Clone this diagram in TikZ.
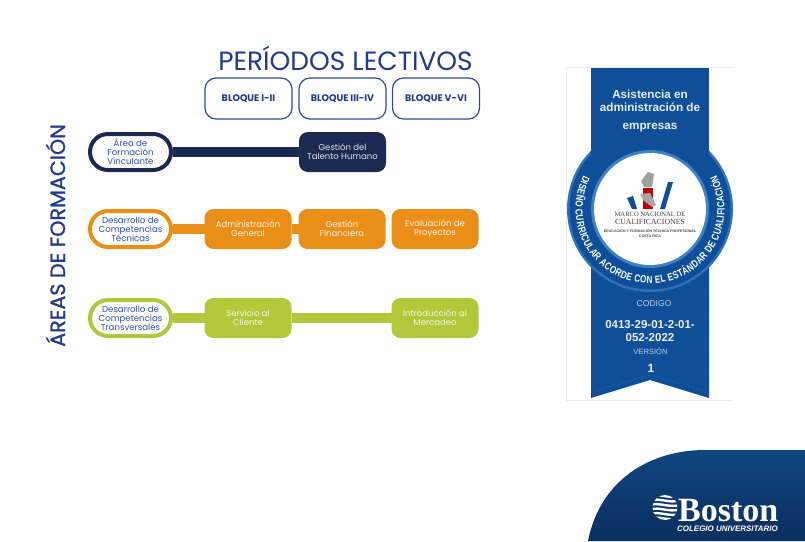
\documentclass[tikz,border=0pt]{standalone}
\usepackage{fontspec}
\setmainfont{Poppins}
\newfontfamily\areafont[FakeBold=1.2]{Poppins}
\newfontfamily\badgefont{Liberation Sans}
\newfontfamily\ringfont[FakeStretch=0.78]{Liberation Sans}
\newfontfamily\crestfont{Liberation Serif}
\usetikzlibrary{positioning,decorations.text,shadings}
\definecolor{navy}{HTML}{1C2A52}
\definecolor{titleblue}{HTML}{1F3A8F}
\definecolor{headline}{HTML}{2F4C9C}
\definecolor{pilltext}{HTML}{2F4FB0}
\definecolor{orangebar}{HTML}{E98E17}
\definecolor{greenbar}{HTML}{B2C83A}
\definecolor{ribbon}{HTML}{0F4F99}
\definecolor{ribbonlight}{HTML}{3D82C4}
\definecolor{ribbontext}{HTML}{B9D0E8}
\definecolor{cardline}{HTML}{ECECEC}
\definecolor{cornertop}{HTML}{10467F}
\definecolor{cornerbottom}{HTML}{0B2E60}
\tikzset{
  head/.style={draw=headline, line width=1.2pt, rounded corners=11pt, minimum width=87pt, minimum height=41pt, align=center, font=\fontsize{9.5}{10}\selectfont\bfseries, text=titleblue, inner sep=0pt},
  pill/.style={draw=#1, fill=white, line width=4pt, rounded corners=18pt, minimum width=81pt, minimum height=36pt, align=center, font=\fontsize{8.6}{9}\selectfont, text=pilltext, inner sep=0pt},
  course/.style={fill=#1, rounded corners=9pt, minimum width=87pt, minimum height=40pt, align=center, font=\fontsize{8.5}{9.2}\selectfont, text=white!88!#1, inner sep=0pt, outer sep=0pt},
  link/.style={draw=#1, line width=10pt},
}
\begin{document}
\begin{tikzpicture}[x=1pt,y=-1pt]
  \useasboundingbox (0,0) rectangle (805,541);

  % titles
  \node (periodos) at (345.5,58.5) {\fontsize{26.4}{28}\selectfont\color{titleblue}PERÍODOS LECTIVOS};
  \node[rotate=90] (areas) at (55.5,235.5) {\areafont\fontsize{20.7}{22}\selectfont\color{titleblue}ÁREAS DE FORMACIÓN};

  % headers
  \node[head] (bloqueA) at (248.5,98.5) {BLOQUE I-II};
  \node[head] (bloqueB) at (342.5,98.5) {BLOQUE III-IV};
  \node[head] (bloqueC) at (436,98.5) {BLOQUE V-VI};

  % row 1
  \node[pill=navy] (vinculante) at (130.5,152) {Área de\\Formación\\Vinculante};
  \node[course=navy] (talento) at (342.5,152) {Gestión del\\Talento Humano};
  % row 2
  \node[pill=orangebar] (tecnicas) at (130.5,229) {Desarrollo de\\Competencias\\Técnicas};
  \node[course=orangebar] (admin) at (248,229) {Administración\\General};
  \node[course=orangebar] (finan) at (342,229) {Gestión\\Financiera};
  \node[course=orangebar] (proyectos) at (435,229) {Evaluación de\\Proyectos};
  % row 3
  \node[pill=greenbar] (transv) at (130.5,318) {Desarrollo de\\Competencias\\Transversales};
  \node[course=greenbar] (cliente) at (248,318) {Servicio al\\Cliente};
  \node[course=greenbar] (mercadeo) at (435,318) {Introducción al\\Mercadeo};

  % links
  \draw[link=navy] (vinculante) -- (talento);
  \draw[link=orangebar] (tecnicas) -- (admin);
  \draw[link=orangebar] (admin) -- (finan);
  \draw[link=greenbar] (transv) -- (cliente);
  \draw[link=greenbar] (cliente) -- (mercadeo);

  % badge
  \draw[cardline] (566,400) -- (566,67) -- (733,67);
  \draw[cardline] (566,400) -- (733,400);
  \fill[ribbon] (591,200) -- (709,200) -- (709,398) -- (650,380) -- (591,398) -- cycle;
  \draw[ribbonlight, densely dotted, line width=.4pt] (595,292) -- (595,391) -- (650,375) -- (705,391) -- (705,292);
  \coordinate (badge) at (650,209);
  \fill[ribbonlight!70!ribbon] (badge) circle[radius=83];
  \fill[ribbon] (badge) circle[radius=80.5];
  \fill[ribbon] (591,68) rectangle (709,209);
  \fill[ribbonlight] (badge) circle[radius=59];
  \fill[white] (badge) circle[radius=56];
  \path[postaction={decorate, decoration={text along path, text align=fit to path,
      text={|\ringfont\bfseries\fontsize{10.4}{11}\selectfont\color{white}|DISEÑO CURRICULAR ACORDE CON EL ESTÁNDAR DE CUALIFICACIÓN}}}]
    (650,209) ++(207:74.5) arc[start angle=207,end angle=-27,radius=74.5];

  % crest
  \fill[ribbon] (627,198) -- (633,196) -- (637,209) -- (632,209) -- cycle;
  \fill[ribbon] (668,182) -- (673,182) -- (665,209) -- (660,209) -- cycle;
  \fill[gray!75] (641,181) -- (648,172) -- (654,174) -- (652,187) -- (644,187) -- cycle;
  \fill[red!75!black] (643,188) -- (653,188) -- (653,209) -- (643,209) -- cycle;
  \fill[gray!70] (640,194) -- (650,193) -- (656,205) -- (652,207) -- (643,200) -- cycle;
  \node[font=\crestfont\fontsize{6.6}{7.6}\selectfont, align=center, inner sep=0pt, text=black!75] (marco) at (650,218.5) {MARCO NACIONAL DE\\\fontsize{7.8}{8}\selectfont CUALIFICACIONES};
  \node[font=\badgefont\bfseries\fontsize{3.6}{5}\selectfont, align=center, inner sep=0pt, text=black!70] (educacion) at (650,233.5) {EDUCACIÓN Y FORMACIÓN TÉCNICA PROFESIONAL\\COSTA RICA};

  % ribbon texts
  \node[font=\badgefont\bfseries\fontsize{11.7}{13.5}\selectfont, align=center, text=white!90!ribbon, inner sep=0pt] (titulo) at (650,111) {Asistencia en\\administración de\\[4.5pt]empresas};
  \node[font=\badgefont\fontsize{8.6}{10}\selectfont, text=ribbontext, inner sep=0pt] (codigo) at (654,304) {CODIGO};
  \node[font=\badgefont\bfseries\fontsize{11.5}{13}\selectfont, align=center, text=white!90!ribbon, inner sep=0pt] (numero) at (650,331) {0413-29-01-2-01-\\052-2022};
  \node[font=\badgefont\fontsize{7.6}{10}\selectfont, text=ribbontext, inner sep=0pt] (version) at (650.5,351) {VERSIÓN};
  \node[font=\badgefont\bfseries\fontsize{12}{13}\selectfont, text=white!90!ribbon, inner sep=0pt] (uno) at (651,368) {1};

  % corner with brand
  \shade[top color=cornertop, bottom color=cornerbottom] (588,541) .. controls (600,480) and (650,450) .. (705,450) -- (805,450) -- (805,541) -- cycle;
  \begin{scope}
    \clip (665,507.5) circle[radius=12.5];
    \foreach \yy in {496,500.5,505,509.5,514,518.5}
      \draw[white, line width=2.4pt] (650,\yy) .. controls (660,\yy-3) and (668,\yy+3) .. (680,\yy);
  \end{scope}
  \node[font=\crestfont\bfseries\fontsize{34}{36}\selectfont, text=white, inner sep=0pt, anchor=base west] (boston) at (678,521) {Boston};
  \node[font=\badgefont\bfseries\itshape\fontsize{7.95}{8}\selectfont, text=white, inner sep=0pt, anchor=base west] (colegio) at (677,531) {COLEGIO UNIVERSITARIO};
\end{tikzpicture}
\end{document}
